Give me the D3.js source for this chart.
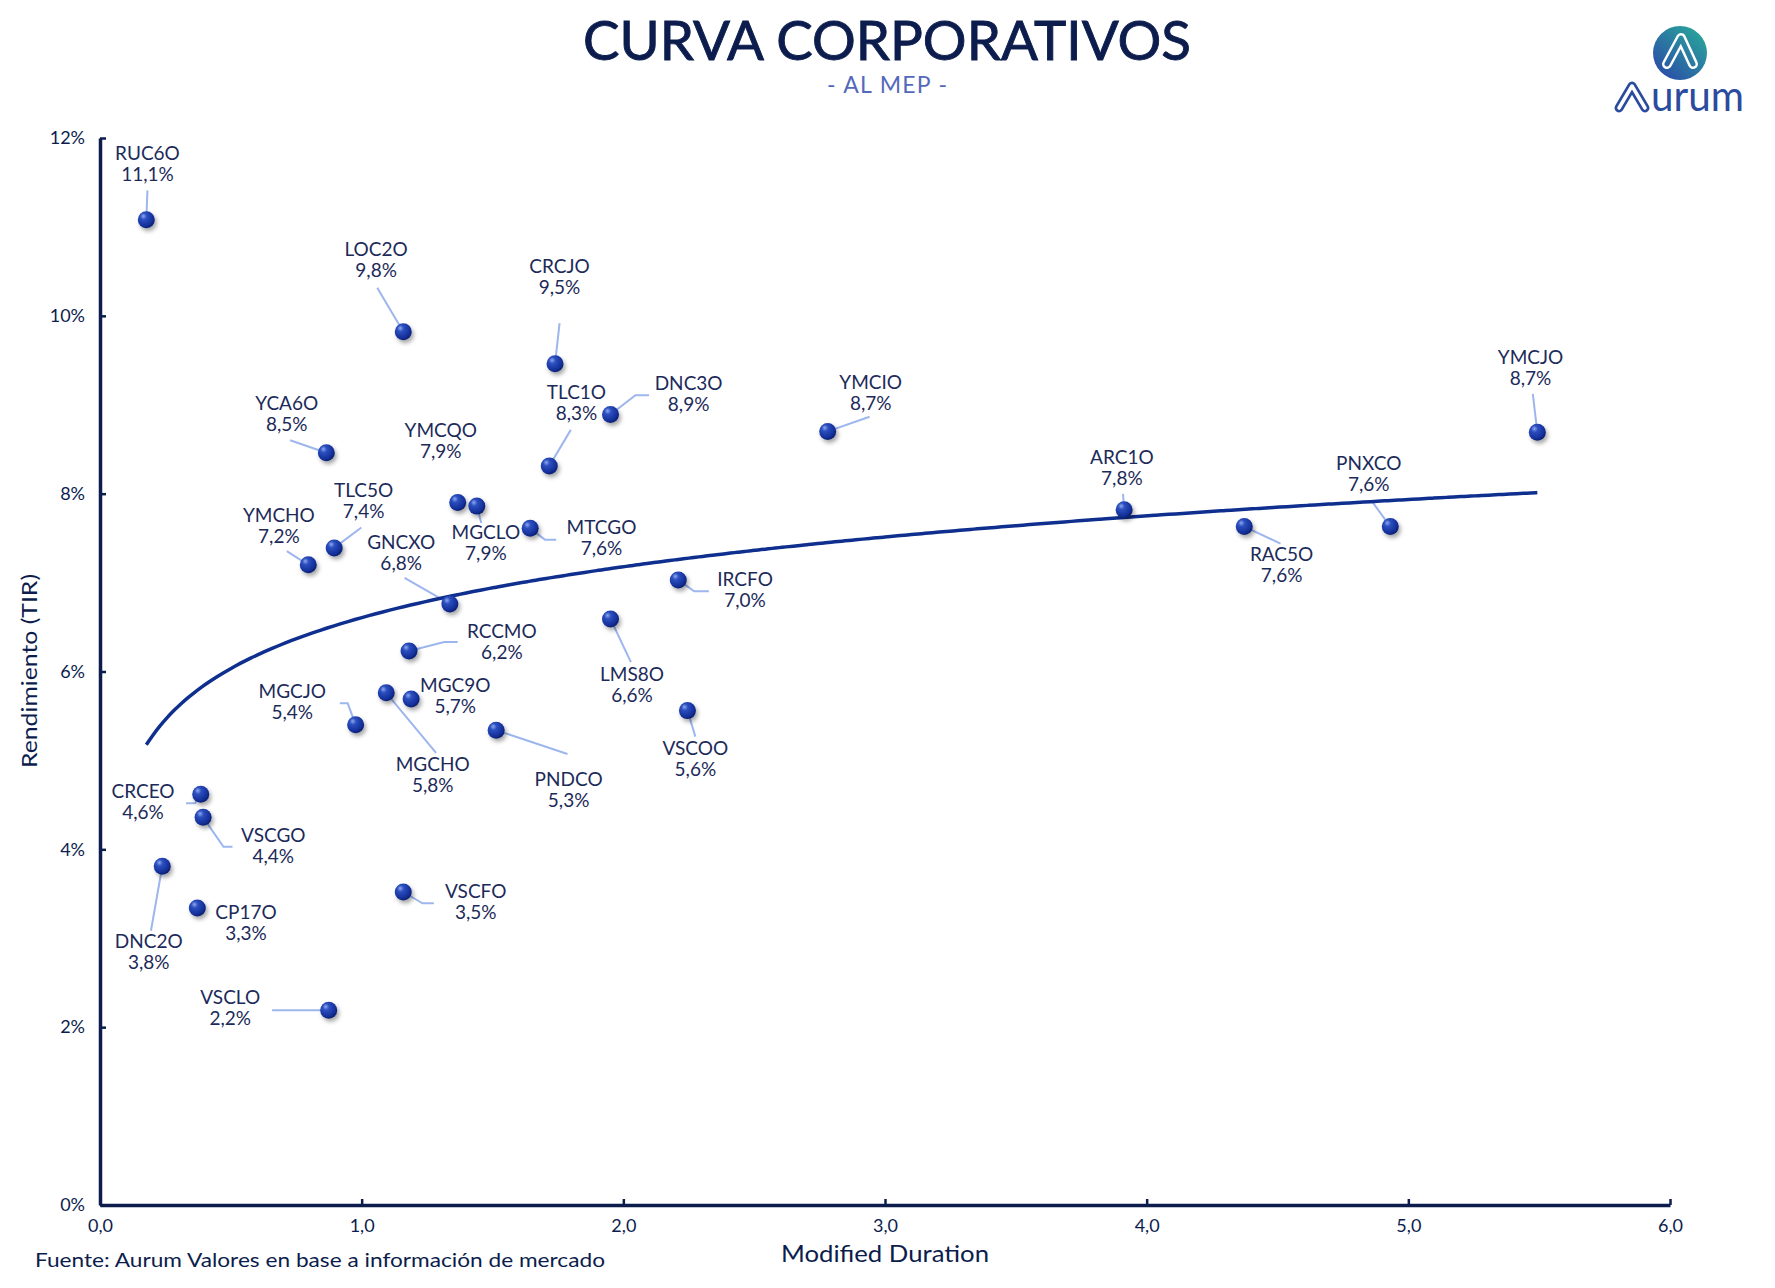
<!DOCTYPE html>
<html>
<head>
<meta charset="utf-8">
<script src="https://cdn.jsdelivr.net/npm/d3@7"></script>
<style>
  body { margin: 0; background: #fff; }
  svg { display: block; font-family: Lato, "Noto Sans", sans-serif; }
</style>
</head>
<body>
<svg id="chart" width="1775" height="1288"></svg>
<script>
// --- data ---
const tickers = ['RUC6O', 'LOC2O', 'CRCJO', 'YCA6O', 'YMCQO', 'MGCLO', 'TLC1O', 'DNC3O', 'YMCIO', 'YMCJO',
    'ARC1O', 'PNXCO', 'RAC5O', 'MTCGO', 'TLC5O', 'YMCHO', 'GNCXO', 'IRCFO', 'LMS8O', 'RCCMO',
    'MGC9O', 'MGCHO', 'MGCJO', 'PNDCO', 'VSCOO', 'CRCEO', 'VSCGO', 'DNC2O', 'CP17O', 'VSCFO', 'VSCLO'];
const duration = [0.177, 1.159, 1.739, 0.865, 1.367, 1.440, 1.717, 1.951, 2.781, 5.493,
    3.914, 4.931, 4.373, 1.644, 0.895, 0.796, 1.337, 2.210, 1.951, 1.181,
    1.189, 1.094, 0.977, 1.514, 2.245, 0.385, 0.394, 0.238, 0.372, 1.159, 0.874];
const tir = [11.08, 9.82, 9.46, 8.46, 7.90, 7.86, 8.31, 8.89, 8.70, 8.69,
    7.82, 7.63, 7.63, 7.61, 7.39, 7.20, 6.76, 7.03, 6.59, 6.23,
    5.69, 5.76, 5.40, 5.34, 5.56, 4.62, 4.36, 3.81, 3.34, 3.52, 2.19];
const xTicks = [0, 1, 2, 3, 4, 5, 6];
const yTicks = [0, 2, 4, 6, 8, 10, 12];

// label layout: offset of the name line from the marker, and leader polyline (offsets too)
// measured on the 1568px wide preview, scaled by K below
const labelOffset = [[1, -57], [-24, -71], [4, -85], [-35, -42], [-15, -62], [8, 25], [24, -64], [69, -26], [38, -42], [-6, -65],
    [-2, -45], [-19, -54], [33, 26], [63, 1], [26, -49], [-26, -42], [-43, -53], [59, 1], [19, 50], [82, -16],
    [39, -11], [41, 65], [-56, -28], [64, 45], [7, 35], [-51, -1], [62, 17], [-12, 68], [43, 5], [64, 1], [-87, -10]];
const leaders = [[[1, -26]], [[-23, -39]], [[4, -36]], [[-32, -11]], null, [[4, 15]], [[19, -32]], [[34, -17], [22, -17]], [[37, -13]], [[-4, -34]],
    [[-1, -14]], [[-16, -22]], [[32, 15]], [[23, 10], [13, 10]], [[24, -18]], [[-19, -12]], [[-40, -23]], [[27, 10], [14, 10]], [[18, 38]], [[43, -8], [31, -8]],
    null, [[44, 53]], [[-14, -19], [-7, -19]], [[63, 21]], [[7, 23]], [[-13, 8], [-5, 8]], [[26, 26], [18, 26]], [[-10, 57]], null, [[27, 10], [17, 10]], [[-50, 0]]];
const K = 1775 / 1568;

const W = 1775, H = 1288;
const margin = { left: 100, right: 105, top: 138, bottom: 83 };
const navy = '#0c1d4d';
const fmt = v => d3.format('.1f')(v).replace('.', ',');

const svg = d3.select('#chart');
svg.append('rect').attr('width', W).attr('height', H).attr('fill', '#fff');

const defs = svg.append('defs');
const ball = defs.append('radialGradient').attr('id', 'ball').attr('cx', '38%').attr('cy', '35%').attr('r', '70%').attr('fx', '32%').attr('fy', '28%');
ball.append('stop').attr('offset', '0%').attr('stop-color', '#8fa8f0');
ball.append('stop').attr('offset', '28%').attr('stop-color', '#2c4fbf');
ball.append('stop').attr('offset', '75%').attr('stop-color', '#14309a');
ball.append('stop').attr('offset', '100%').attr('stop-color', '#0a1c66');
const shadow = defs.append('filter').attr('id', 'shadow').attr('x', '-50%').attr('y', '-50%').attr('width', '200%').attr('height', '200%');
shadow.append('feDropShadow').attr('dx', 2).attr('dy', 3).attr('stdDeviation', 2).attr('flood-color', '#000').attr('flood-opacity', 0.35);
const logoGrad = defs.append('linearGradient').attr('id', 'logoGrad').attr('gradientUnits', 'userSpaceOnUse')
    .attr('x1', 1660).attr('y1', 75).attr('x2', 1700).attr('y2', 30);
logoGrad.append('stop').attr('offset', '0%').attr('stop-color', '#2a4ea8');
logoGrad.append('stop').attr('offset', '100%').attr('stop-color', '#2aa49b');

const x = d3.scaleLinear().domain([0, 6]).range([margin.left, W - margin.right]);
const y = d3.scaleLinear().domain([0, 12]).range([H - margin.bottom, margin.top]);

// titles
svg.append('text').attr('x', 887).attr('y', 60).attr('text-anchor', 'middle')
    .attr('font-size', 54).attr('fill', navy).attr('stroke', navy).attr('stroke-width', 0.9)
    .attr('textLength', 608).attr('lengthAdjust', 'spacingAndGlyphs')
    .text('CURVA CORPORATIVOS');
svg.append('text').attr('x', 887).attr('y', 93).attr('text-anchor', 'middle')
    .attr('font-size', 23).attr('fill', '#5469bb')
    .attr('textLength', 120).attr('lengthAdjust', 'spacing').text('- AL MEP -');

// axes
const gx = svg.append('g').attr('transform', `translate(0,${y(0)})`)
    .call(d3.axisBottom(x).tickValues(xTicks).tickFormat(fmt).tickSizeInner(-6).tickSizeOuter(0).tickPadding(14));
const gy = svg.append('g').attr('transform', `translate(${x(0)},0)`)
    .call(d3.axisLeft(y).tickValues(yTicks).tickFormat(d => d + '%').tickSizeInner(-6).tickSizeOuter(0).tickPadding(15));
[gx, gy].forEach(g => {
    g.select('.domain').attr('stroke', navy).attr('stroke-width', 3.5);
    g.selectAll('.tick line').attr('stroke', navy).attr('stroke-width', 2.5);
    g.selectAll('.tick text').attr('fill', navy).attr('font-size', 18).attr('font-family', 'Lato, "Noto Sans", sans-serif');
});

svg.append('text').attr('transform', 'translate(31,671) rotate(-90)').attr('text-anchor', 'middle')
    .attr('dominant-baseline', 'middle').attr('font-size', 22).attr('fill', navy)
    .attr('textLength', 194).attr('lengthAdjust', 'spacingAndGlyphs').text('Rendimiento (TIR)');
svg.append('text').attr('x', 885).attr('y', 1262).attr('text-anchor', 'middle')
    .attr('font-size', 23).attr('fill', navy)
    .attr('textLength', 208).attr('lengthAdjust', 'spacingAndGlyphs').text('Modified Duration');
svg.append('text').attr('x', 35).attr('y', 1267)
    .attr('font-size', 20).attr('fill', navy)
    .attr('textLength', 570).attr('lengthAdjust', 'spacingAndGlyphs')
    .text('Fuente: Aurum Valores en base a información de mercado');

// leader lines
const gLead = svg.append('g');
tickers.forEach((t, i) => {
    if (!leaders[i]) return;
    const px = x(duration[i]), py = y(tir[i]);
    const pts = leaders[i].map(([dx, dy]) => [px + dx * K, py + dy * K]).concat([[px, py]]);
    gLead.append('path').attr('d', d3.line()(pts)).attr('fill', 'none')
        .attr('stroke', '#9db6ee').attr('stroke-width', 2);
});

// logarithmic trend line fitted on the points (Excel style)
const lnx = duration.map(Math.log);
const mx = d3.mean(lnx), my = d3.mean(tir);
const b = d3.sum(lnx, (v, i) => (v - mx) * (tir[i] - my)) / d3.sum(lnx, v => (v - mx) ** 2);
const a = my - b * mx;
const [xmin, xmax] = d3.extent(duration);
const trend = d3.range(0, 201).map(k => {
    const xv = xmin + (xmax - xmin) * k / 200;
    return [x(xv), y(a + b * Math.log(xv))];
});
svg.append('path').attr('d', d3.line().curve(d3.curveBasis)(trend)).attr('fill', 'none')
    .attr('stroke', '#0f2f8f').attr('stroke-width', 3.5);

// markers
svg.append('g').selectAll('circle').data(tickers).join('circle')
    .attr('cx', (d, i) => x(duration[i])).attr('cy', (d, i) => y(tir[i])).attr('r', 8.5)
    .attr('fill', 'url(#ball)').attr('filter', 'url(#shadow)');

// labels
const gLab = svg.append('g').attr('fill', '#1c2a5a').attr('font-size', 19).attr('text-anchor', 'middle');
tickers.forEach((t, i) => {
    const lx = x(duration[i]) + labelOffset[i][0] * K;
    const ly = y(tir[i]) + labelOffset[i][1] * K;
    const txt = gLab.append('text').attr('x', lx).attr('y', ly).attr('dominant-baseline', 'middle');
    txt.append('tspan').attr('x', lx).text(t);
    txt.append('tspan').attr('x', lx).attr('dy', 21).text(fmt(tir[i]) + '%');
});

// logo
const logo = svg.append('g');
logo.append('circle').attr('cx', 1680).attr('cy', 53).attr('r', 27).attr('fill', 'url(#logoGrad)');
const mark = d3.line()([[1667, 64], [1681, 38], [1693, 64]]);
logo.append('path').attr('d', mark).attr('fill', 'none').attr('stroke', '#fff').attr('stroke-width', 10)
    .attr('stroke-linejoin', 'round').attr('stroke-linecap', 'round');
logo.append('path').attr('d', mark).attr('fill', 'none').attr('stroke', 'url(#logoGrad)').attr('stroke-width', 5)
    .attr('stroke-linejoin', 'round').attr('stroke-linecap', 'round');
const markA = d3.line()([[1619, 108], [1632, 86], [1645, 108]]);
logo.append('path').attr('d', markA).attr('fill', 'none').attr('stroke', '#2b4b9e').attr('stroke-width', 9)
    .attr('stroke-linejoin', 'round').attr('stroke-linecap', 'round');
logo.append('path').attr('d', markA).attr('fill', 'none').attr('stroke', '#fff').attr('stroke-width', 3.5)
    .attr('stroke-linejoin', 'round').attr('stroke-linecap', 'round');
logo.append('text').attr('x', 1651).attr('y', 111).attr('font-size', 42).attr('fill', '#2b4b9e')
    .attr('textLength', 93).attr('lengthAdjust', 'spacingAndGlyphs').text('urum');
</script>
</body>
</html>
